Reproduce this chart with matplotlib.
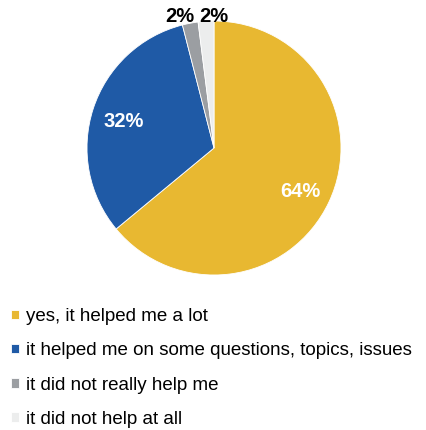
import matplotlib
matplotlib.use('Agg')
import matplotlib.pyplot as plt
import numpy as np

labels = ['yes, it helped me a lot',
          'it helped me on some questions, topics, issues',
          'it did not really help me',
          'it did not help at all']
shares = [64, 32, 2, 2]
colors = ['#E8B831', '#1F5AA6', '#9B9EA2', '#ECEDED']

plt.rcParams['font.family'] = ['Liberation Sans', 'DejaVu Sans']

fig = plt.figure(figsize=(4.27, 4.30), dpi=100)
ax = fig.add_axes([87 / 427, 155 / 430, 254 / 427, 254 / 430])

wedges, _ = ax.pie(shares, colors=colors, startangle=90, counterclock=False,
                   radius=1, wedgeprops={'linewidth': 0.6, 'edgecolor': 'white'})
ax.set_xlim(-1, 1)
ax.set_ylim(-1, 1)
ax.set_aspect('auto')

# value labels: inside for the big slices, above the pie for the small ones
small_pos = {2: (-0.27, 1.035), 3: (0.0, 1.035)}
for i, (w, v) in enumerate(zip(wedges, shares)):
    mid = np.deg2rad((w.theta1 + w.theta2) / 2)
    if i in small_pos:
        x, y = small_pos[i]
        ax.text(x, y, f'{v}%', ha='center', va='center', fontsize=14.5,
                fontweight='bold', color='black', clip_on=False)
    else:
        r = 0.75
        ax.text(r * np.cos(mid), r * np.sin(mid) - 0.02, f'{v}%', ha='center',
                va='center', fontsize=14.5, fontweight='bold', color='white')

fig.legend(wedges, labels, loc='upper left', bbox_to_anchor=(11 / 427, 1 - 308 / 430),
           frameon=False, fontsize=13.5, handlelength=0.4, handleheight=0.4,
           handletextpad=0.38, labelspacing=0.92, borderpad=0, borderaxespad=0)

fig.savefig('out.png', dpi=100)
